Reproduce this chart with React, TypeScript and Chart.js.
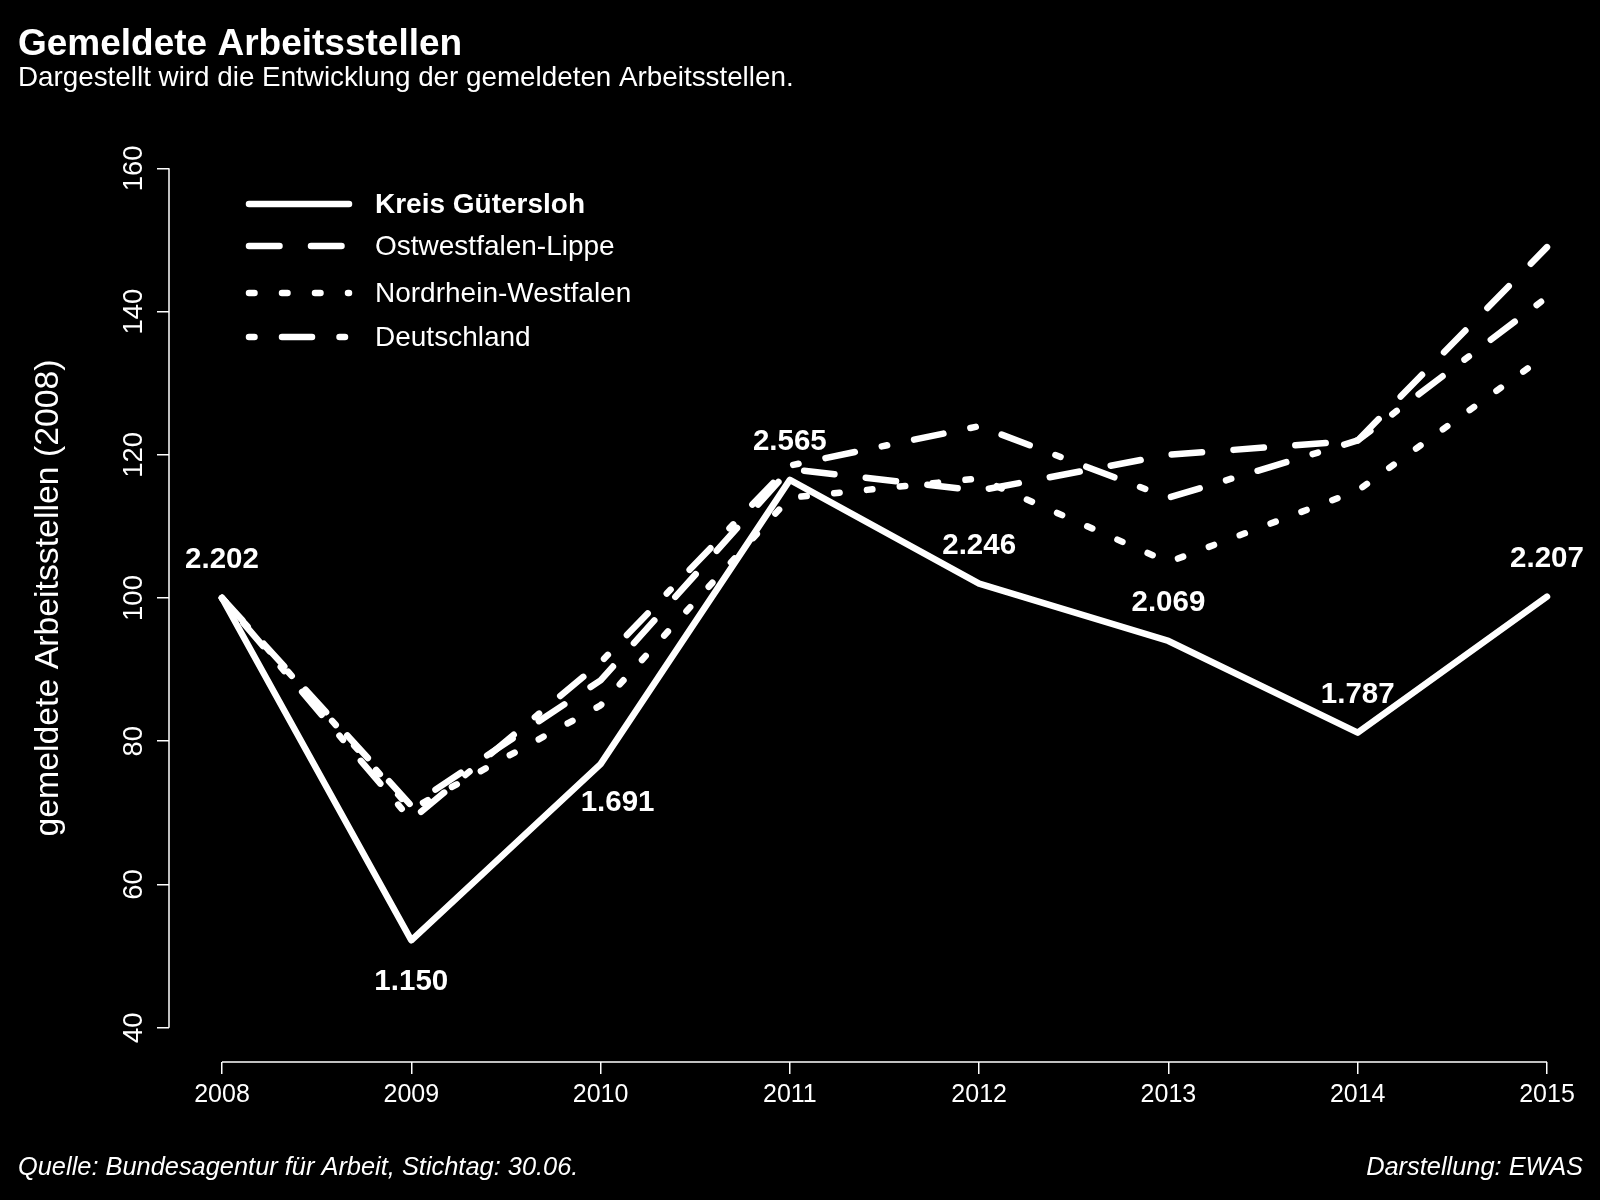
import { useEffect, useRef } from "react";
import { Chart, registerables } from "chart.js";

Chart.register(...registerables);

// ---------- data ----------
const years = [2008, 2009, 2010, 2011, 2012, 2013, 2014, 2015];
const seriesNames = ["Kreis Gütersloh", "Ostwestfalen-Lippe", "Nordrhein-Westfalen", "Deutschland"];
const guetersloh = [100, 52.2, 76.8, 116.5, 102.0, 94.0, 81.2, 100.2];
const ostwestfalenLippe = [100, 71, 88.5, 118, 115, 120, 122, 149];
const nordrheinWestfalen = [100, 70.5, 85, 114, 116.7, 105, 115, 134];
const deutschland = [100, 69, 91, 118.5, 124, 114, 122, 142];
const guetersLabels = ["2.202", "1.150", "1.691", "2.565", "2.246", "2.069", "1.787", "2.207"];
const yTicks = [40, 60, 80, 100, 120, 140, 160];

// label placement relative to the point (style, not data)
const labelPlacement = ["above", "below", "belowRight", "above", "above", "above", "above", "above"];

const FONT = '"Liberation Sans", Arial, Helvetica, sans-serif';
const WHITE = "#ffffff";
const LINE_W = 6.5;

const dashes: number[][] = [[], [30.5, 31.5], [5.5, 27.5], [5.5, 27.5, 30, 27.5]];
const seriesValues = [guetersloh, ostwestfalenLippe, nordrheinWestfalen, deutschland];

const bgPlugin = {
  id: "bg",
  beforeDraw(chart: any) {
    const ctx = chart.ctx;
    ctx.save();
    ctx.fillStyle = "#000";
    ctx.fillRect(0, 0, chart.width, chart.height);
    ctx.restore();
  },
};

const decoPlugin = {
  id: "deco",
  afterDraw(chart: any) {
    const ctx: CanvasRenderingContext2D = chart.ctx;
    const xs = chart.scales.x;
    const ys = chart.scales.y;
    const area = chart.chartArea;
    ctx.save();
    ctx.fillStyle = WHITE;
    ctx.strokeStyle = WHITE;

    // axis lines (R style: only between first and last tick)
    ctx.lineWidth = 1.5;
    ctx.setLineDash([]);
    ctx.beginPath();
    ctx.moveTo(area.left, ys.getPixelForValue(yTicks[0]));
    ctx.lineTo(area.left, ys.getPixelForValue(yTicks[yTicks.length - 1]));
    ctx.moveTo(xs.getPixelForValue(years[0]), area.bottom);
    ctx.lineTo(xs.getPixelForValue(years[years.length - 1]), area.bottom);
    ctx.stroke();

    // title & subtitle
    ctx.textAlign = "left";
    ctx.textBaseline = "alphabetic";
    ctx.font = `bold 37px ${FONT}`;
    ctx.fillText("Gemeldete Arbeitsstellen", 18, 55);
    ctx.font = `27.8px ${FONT}`;
    ctx.fillText("Dargestellt wird die Entwicklung der gemeldeten Arbeitsstellen.", 18, 86);

    // footer
    ctx.font = `italic 25.4px ${FONT}`;
    ctx.fillText("Quelle: Bundesagentur für Arbeit, Stichtag: 30.06.", 18, 1175);
    ctx.textAlign = "right";
    ctx.fillText("Darstellung: EWAS", 1583, 1175);

    // y axis title
    ctx.save();
    ctx.translate(49, ys.getPixelForValue(100));
    ctx.rotate(-Math.PI / 2);
    ctx.textAlign = "center";
    ctx.textBaseline = "middle";
    ctx.font = `33.8px ${FONT}`;
    ctx.fillText("gemeldete Arbeitsstellen (2008)", 0, 0);
    ctx.restore();

    // data labels for Kreis Gütersloh
    const meta = chart.getDatasetMeta(0);
    ctx.font = `bold 29.5px ${FONT}`;
    ctx.textAlign = "center";
    ctx.textBaseline = "middle";
    meta.data.forEach((pt: any, i: number) => {
      let dx = 0;
      let dy = -38;
      if (labelPlacement[i] === "below") dy = 42;
      if (labelPlacement[i] === "belowRight") {
        dx = 17;
        dy = 39;
      }
      ctx.fillText(guetersLabels[i], pt.x + dx, pt.y + dy);
    });

    // legend
    const rowY = [205, 247, 294, 338];
    chart.data.datasets.forEach((ds: any, i: number) => {
      const y = rowY[i];
      ctx.save();
      ctx.lineWidth = ds.borderWidth;
      ctx.lineCap = "round";
      ctx.setLineDash(ds.borderDash || []);
      ctx.beginPath();
      ctx.moveTo(249, y - 1);
      ctx.lineTo(349, y - 1);
      ctx.stroke();
      ctx.restore();
      ctx.font = `${i === 0 ? "bold " : ""}28px ${FONT}`;
      ctx.textAlign = "left";
      ctx.textBaseline = "middle";
      ctx.fillText(ds.label, 375, y);
    });

    ctx.restore();
  },
};

export default function App() {
  const canvasRef = useRef<HTMLCanvasElement | null>(null);

  useEffect(() => {
    if (!canvasRef.current) return;
    const datasets = seriesNames.map((name, i) => ({
      label: name,
      data: years.map((yr, j) => ({ x: yr, y: seriesValues[i][j] })),
      borderColor: WHITE,
      backgroundColor: WHITE,
      borderWidth: LINE_W,
      borderDash: dashes[i],
      borderCapStyle: "round",
      borderJoinStyle: "round",
      pointRadius: 0,
      fill: false,
      tension: 0,
    }));

    const chart = new Chart(canvasRef.current, {
      type: "line",
      data: { datasets: datasets as any },
      options: {
        animation: false,
        responsive: false,
        maintainAspectRatio: false,
        devicePixelRatio: 1,
        layout: { padding: { top: 134, left: 0, right: 0, bottom: 0 } },
        plugins: {
          legend: { display: false },
          tooltip: { enabled: false },
          title: { display: false },
        },
        scales: {
          x: {
            type: "linear",
            min: years[0] - 0.04 * (years[years.length - 1] - years[0]),
            max: years[years.length - 1] + 0.04 * (years[years.length - 1] - years[0]),
            afterBuildTicks: (s: any) => {
              s.ticks = years.map((v) => ({ value: v }));
            },
            afterFit: (s: any) => {
              s.height = 138;
            },
            ticks: {
              callback: (v: any) => String(v),
              color: WHITE,
              font: { family: FONT, size: 25 },
              padding: 6,
              autoSkip: false,
              maxRotation: 0,
              minRotation: 0,
            },
            grid: {
              display: true,
              drawOnChartArea: false,
              drawTicks: true,
              tickLength: 12,
              color: WHITE,
              lineWidth: 1.5,
            },
            border: { display: false },
          },
          y: {
            type: "linear",
            min: yTicks[0] - 0.04 * (yTicks[yTicks.length - 1] - yTicks[0]),
            max: yTicks[yTicks.length - 1] + 0.04 * (yTicks[yTicks.length - 1] - yTicks[0]),
            afterBuildTicks: (s: any) => {
              s.ticks = yTicks.map((v) => ({ value: v }));
            },
            afterFit: (s: any) => {
              s.width = 169;
            },
            ticks: {
              callback: (v: any) => String(v),
              color: WHITE,
              font: { family: FONT, size: 27.5 },
              padding: 0,
              minRotation: 90,
              maxRotation: 90,
              crossAlign: "center",
              autoSkip: false,
            },
            grid: {
              display: true,
              drawOnChartArea: false,
              drawTicks: true,
              tickLength: 12,
              color: WHITE,
              lineWidth: 1.5,
            },
            border: { display: false },
          },
        },
      } as any,
      plugins: [bgPlugin, decoPlugin],
    });

    return () => {
      chart.destroy();
    };
  }, []);

  return (
    <div
      style={{
        position: "fixed",
        left: 0,
        top: 0,
        width: 1600,
        height: 1200,
        background: "#000",
      }}
    >
      <canvas
        ref={canvasRef}
        width={1600}
        height={1200}
        style={{ display: "block", width: "1600px", height: "1200px" }}
      />
    </div>
  );
}
